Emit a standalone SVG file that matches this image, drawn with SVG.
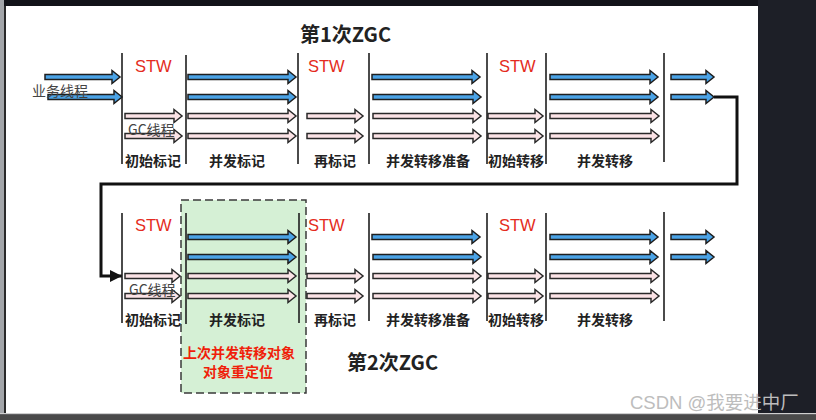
<svg xmlns="http://www.w3.org/2000/svg" width="816" height="420" viewBox="0 0 816 420">
<style>
.bl{fill:#4ba3e6;stroke:#1e1e1e;stroke-width:1.5;stroke-linejoin:miter}
.pk{fill:#fbe3e6;stroke:#2a2a2a;stroke-width:1.5;stroke-linejoin:miter}
.vl{stroke:#1e1e1e;stroke-width:1.6;fill:none}
.stw{font-family:"Liberation Sans","Noto Sans",sans-serif;font-size:16.5px;fill:#e42b20}
.lab{font-family:"Noto Sans CJK SC",sans-serif;font-size:14px;font-weight:bold;fill:#222;text-anchor:middle}
.th{font-family:"Noto Sans CJK SC",sans-serif;font-size:14px;fill:#444}
.ttl{font-family:"Noto Sans CJK SC",sans-serif;font-size:20px;font-weight:bold;fill:#222}
.red{font-family:"Noto Sans CJK SC",sans-serif;font-size:14px;font-weight:bold;fill:#f01e0a;text-anchor:middle}
.wm{font-family:"Liberation Sans","Noto Sans CJK SC",sans-serif;font-size:18.5px;fill:#bdbdbd}
</style>
<defs>
<marker id="ah" viewBox="0 0 10 10" refX="10" refY="5" markerWidth="4" markerHeight="4" orient="auto" markerUnits="strokeWidth">
<path d="M0,0 L10,5 L0,10 z" fill="#111"/>
</marker>
</defs>
<rect x="0" y="0" width="816" height="420" fill="#1d1f27"/>
<rect x="0" y="0" width="758" height="6" fill="#121319"/>
<rect x="0" y="0" width="4" height="414" fill="#a3a6aa"/>
<rect x="4" y="6" width="2" height="408" fill="#2a2a2a"/>
<rect x="6" y="6" width="752" height="407" fill="#ffffff"/>
<rect x="0" y="413" width="816" height="1.5" fill="#cfcfcf"/>
<rect x="0" y="414.5" width="816" height="6" fill="#4a4a4a"/>

<g id="zgc2-highlight">
<rect x="181" y="200" width="125" height="193" fill="#d5f0d5" stroke="#3a3a3a" stroke-width="1.5" stroke-dasharray="8 4"/>
</g>

<g id="row1">
<text class="ttl" x="300" y="42">第1次ZGC</text>
<g id="row1-lines">
<line class="vl" x1="122" y1="53" x2="122" y2="164"/>
<line class="vl" x1="186" y1="55" x2="186" y2="164"/>
<line class="vl" x1="298" y1="53" x2="298" y2="164"/>
<line class="vl" x1="369" y1="53" x2="369" y2="164"/>
<line class="vl" x1="487" y1="53" x2="487" y2="164"/>
<line class="vl" x1="546" y1="53" x2="546" y2="164"/>
<line class="vl" x1="664" y1="53" x2="664" y2="162"/>
</g>
<g id="row1-stw">
<text class="stw" x="135" y="72">STW</text>
<text class="stw" x="308" y="72">STW</text>
<text class="stw" x="499" y="72">STW</text>
</g>
<g id="row1-arrows">
<polygon class="bl" points="45,74.5 112,74.5 112,70.5 120,77 112,83.5 112,79.5 45,79.5"/>
<polygon class="bl" points="48,94.5 114,94.5 114,90.5 122,97 114,103.5 114,99.5 48,99.5"/>
<polygon class="pk" points="125,113.5 174,113.5 174,109.5 182,116 174,122.5 174,118.5 125,118.5"/>
<polygon class="pk" points="125,133.5 174,133.5 174,129.5 182,136 174,142.5 174,138.5 125,138.5"/>
<polygon class="bl" points="188,74.5 288,74.5 288,70.5 296,77 288,83.5 288,79.5 188,79.5"/>
<polygon class="bl" points="188,94.5 288,94.5 288,90.5 296,97 288,103.5 288,99.5 188,99.5"/>
<polygon class="pk" points="188,113.5 288,113.5 288,109.5 296,116 288,122.5 288,118.5 188,118.5"/>
<polygon class="pk" points="188,133.5 288,133.5 288,129.5 296,136 288,142.5 288,138.5 188,138.5"/>
<polygon class="pk" points="307,113.5 355,113.5 355,109.5 363,116 355,122.5 355,118.5 307,118.5"/>
<polygon class="pk" points="307,133.5 355,133.5 355,129.5 363,136 355,142.5 355,138.5 307,138.5"/>
<polygon class="bl" points="372,74.5 472,74.5 472,70.5 480,77 472,83.5 472,79.5 372,79.5"/>
<polygon class="bl" points="373,94.5 473,94.5 473,90.5 481,97 473,103.5 473,99.5 373,99.5"/>
<polygon class="pk" points="373,113.5 473,113.5 473,109.5 481,116 473,122.5 473,118.5 373,118.5"/>
<polygon class="pk" points="373,133.5 473,133.5 473,129.5 481,136 473,142.5 473,138.5 373,138.5"/>
<polygon class="pk" points="488,113.5 535,113.5 535,109.5 543,116 535,122.5 535,118.5 488,118.5"/>
<polygon class="pk" points="488,133.5 535,133.5 535,129.5 543,136 535,142.5 535,138.5 488,138.5"/>
<polygon class="bl" points="550,74.5 650,74.5 650,70.5 658,77 650,83.5 650,79.5 550,79.5"/>
<polygon class="bl" points="550,94.5 650,94.5 650,90.5 658,97 650,103.5 650,99.5 550,99.5"/>
<polygon class="pk" points="550,113.5 651,113.5 651,109.5 659,116 651,122.5 651,118.5 550,118.5"/>
<polygon class="pk" points="550,133.5 651,133.5 651,129.5 659,136 651,142.5 651,138.5 550,138.5"/>
<polygon class="bl" points="671,74.5 706,74.5 706,70.5 714,77 706,83.5 706,79.5 671,79.5"/>
<polygon class="bl" points="671,94.5 706,94.5 706,90.5 714,97 706,103.5 706,99.5 671,99.5"/>
</g>
<text class="th" x="32" y="96">业务线程</text>
<text class="th" x="128" y="135">GC线程</text>
<g id="row1-labels">
<text class="lab" x="153" y="166">初始标记</text>
<text class="lab" x="237" y="166">并发标记</text>
<text class="lab" x="335" y="166">再标记</text>
<text class="lab" x="428" y="166">并发转移准备</text>
<text class="lab" x="516" y="166">初始转移</text>
<text class="lab" x="605" y="166">并发转移</text>
</g>
</g>

<g id="connectors">
<path d="M714,97 H737 V184 H101 V276 H122" fill="none" stroke="#111" stroke-width="3" stroke-linejoin="miter" marker-end="url(#ah)"/>
</g>

<g id="row2">
<g id="row2-lines">
<line class="vl" x1="122" y1="213" x2="122" y2="323"/>
<line class="vl" x1="186" y1="213" x2="186" y2="324"/>
<line class="vl" x1="299" y1="213" x2="299" y2="323"/>
<line class="vl" x1="369" y1="213" x2="369" y2="321"/>
<line class="vl" x1="487" y1="213" x2="487" y2="321"/>
<line class="vl" x1="546" y1="213" x2="546" y2="321"/>
<line class="vl" x1="664" y1="212" x2="664" y2="321"/>
</g>
<g id="row2-stw">
<text class="stw" x="135" y="231">STW</text>
<text class="stw" x="308" y="231">STW</text>
<text class="stw" x="499" y="231">STW</text>
</g>
<g id="row2-arrows">
<polygon class="pk" points="125,273.5 172,273.5 172,269.5 180,276 172,282.5 172,278.5 125,278.5"/>
<polygon class="pk" points="125,293.5 172,293.5 172,289.5 180,296 172,302.5 172,298.5 125,298.5"/>
<polygon class="bl" points="188,234.5 288,234.5 288,230.5 296,237 288,243.5 288,239.5 188,239.5"/>
<polygon class="bl" points="188,254.5 288,254.5 288,250.5 296,257 288,263.5 288,259.5 188,259.5"/>
<polygon class="pk" points="188,273.5 288,273.5 288,269.5 296,276 288,282.5 288,278.5 188,278.5"/>
<polygon class="pk" points="188,293.5 288,293.5 288,289.5 296,296 288,302.5 288,298.5 188,298.5"/>
<polygon class="pk" points="307,273.5 355,273.5 355,269.5 363,276 355,282.5 355,278.5 307,278.5"/>
<polygon class="pk" points="307,293.5 355,293.5 355,289.5 363,296 355,302.5 355,298.5 307,298.5"/>
<polygon class="bl" points="372,234.5 472,234.5 472,230.5 480,237 472,243.5 472,239.5 372,239.5"/>
<polygon class="bl" points="373,254.5 473,254.5 473,250.5 481,257 473,263.5 473,259.5 373,259.5"/>
<polygon class="pk" points="373,273.5 473,273.5 473,269.5 481,276 473,282.5 473,278.5 373,278.5"/>
<polygon class="pk" points="373,293.5 473,293.5 473,289.5 481,296 473,302.5 473,298.5 373,298.5"/>
<polygon class="pk" points="488,273.5 535,273.5 535,269.5 543,276 535,282.5 535,278.5 488,278.5"/>
<polygon class="pk" points="488,293.5 535,293.5 535,289.5 543,296 535,302.5 535,298.5 488,298.5"/>
<polygon class="bl" points="550,234.5 650,234.5 650,230.5 658,237 650,243.5 650,239.5 550,239.5"/>
<polygon class="bl" points="550,254.5 650,254.5 650,250.5 658,257 650,263.5 650,259.5 550,259.5"/>
<polygon class="pk" points="550,273.5 651,273.5 651,269.5 659,276 651,282.5 651,278.5 550,278.5"/>
<polygon class="pk" points="550,293.5 651,293.5 651,289.5 659,296 651,302.5 651,298.5 550,298.5"/>
<polygon class="bl" points="671,234.5 706,234.5 706,230.5 714,237 706,243.5 706,239.5 671,239.5"/>
<polygon class="bl" points="671,254.5 706,254.5 706,250.5 714,257 706,263.5 706,259.5 671,259.5"/>
</g>
<text class="th" x="129" y="295">GC线程</text>
<g id="row2-labels">
<text class="lab" x="153" y="325">初始标记</text>
<text class="lab" x="237" y="325">并发标记</text>
<text class="lab" x="335" y="325">再标记</text>
<text class="lab" x="428" y="325">并发转移准备</text>
<text class="lab" x="516" y="325">初始转移</text>
<text class="lab" x="605" y="325">并发转移</text>
</g>
<text class="red" x="239" y="358">上次并发转移对象</text>
<text class="red" x="238" y="377">对象重定位</text>
<text class="ttl" x="347" y="370">第2次ZGC</text>
</g>

<text class="wm" x="630" y="409">CSDN @我要进中厂</text>
</svg>
